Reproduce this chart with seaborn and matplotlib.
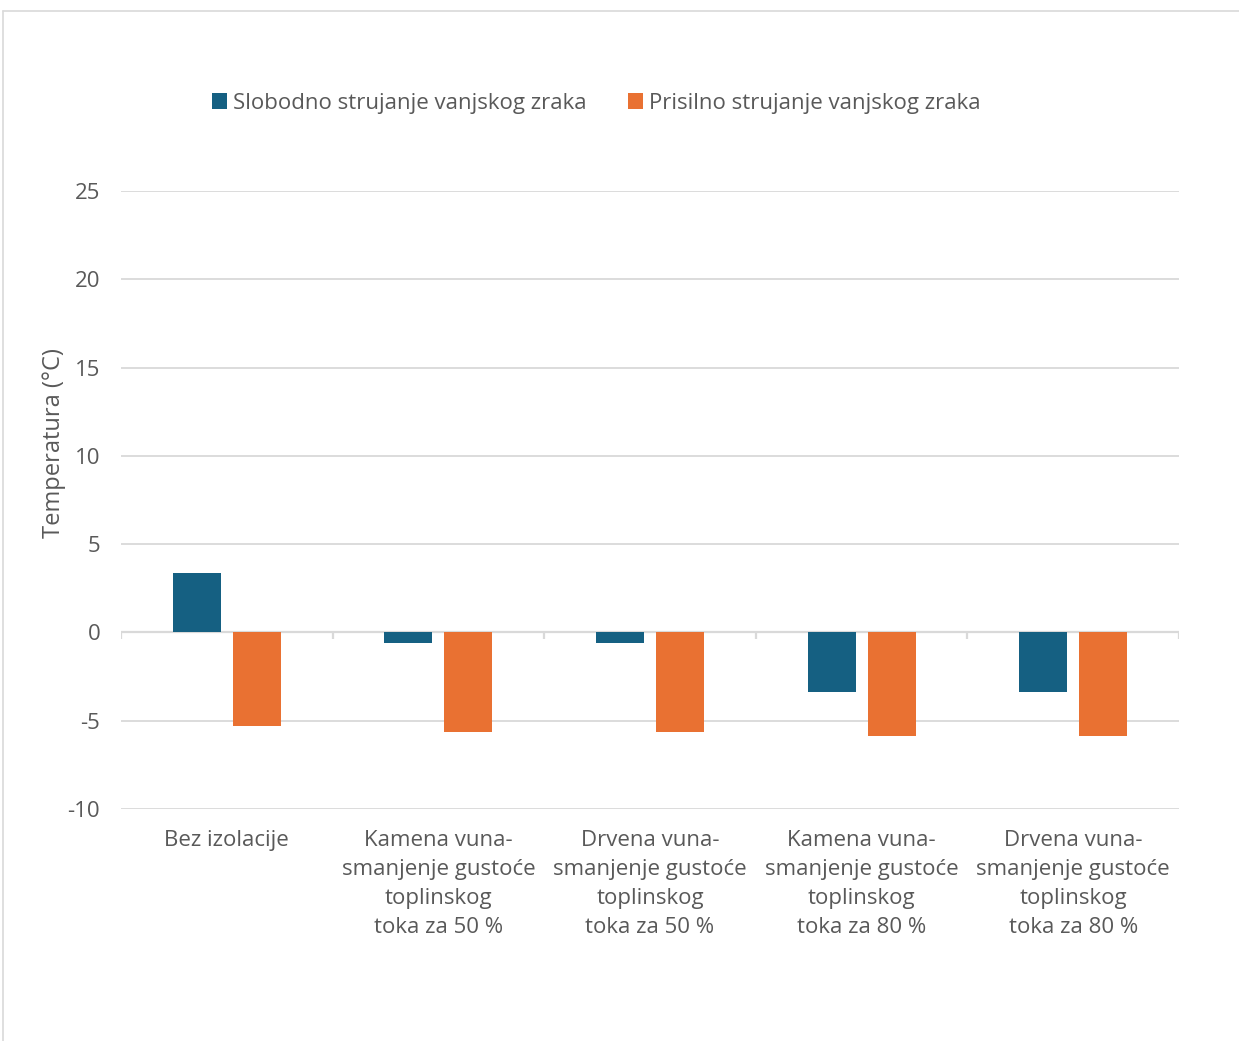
import pandas as pd
import matplotlib.pyplot as plt
import seaborn as sns
from matplotlib.patches import Patch

# Data
categories = [
    "Bez izolacije",
    "Kamena vuna-\nsmanjenje gustoće\ntoplinskog\ntoka za 50 %",
    "Drvena vuna-\nsmanjenje gustoće\ntoplinskog\ntoka za 50 %",
    "Kamena vuna-\nsmanjenje gustoće\ntoplinskog\ntoka za 80 %",
    "Drvena vuna-\nsmanjenje gustoće\ntoplinskog\ntoka za 80 %",
]
series_names = ["Slobodno strujanje vanjskog zraka", "Prisilno strujanje vanjskog zraka"]
slobodno = [3.35, -0.6, -0.6, -3.4, -3.4]
prisilno = [-5.3, -5.65, -5.65, -5.85, -5.85]
colors = ["#156082", "#E97132"]

df = pd.DataFrame({
    "kategorija": categories * 2,
    "serija": [series_names[0]] * 5 + [series_names[1]] * 5,
    "temperatura": slobodno + prisilno,
})

sns.set_style("white")
plt.rcParams["font.family"] = ["Open Sans", "DejaVu Sans"]
plt.rcParams["axes.unicode_minus"] = False
text_col = "#595959"
grid_col = "#D9D9D9"

fig = plt.figure(figsize=(12.39, 10.41), dpi=100)
ax = fig.add_axes([121 / 1239, 1 - 809 / 1041, (1179 - 121) / 1239, (809 - 191) / 1041])

sns.barplot(data=df, x="kategorija", y="temperatura", hue="serija",
            palette=colors, saturation=1, width=0.567, gap=0.2, ax=ax,
            legend=False, linewidth=0)

ax.set_ylim(-10, 25)
ax.set_xlim(-0.5, len(categories) - 0.5)
ax.set_yticks(range(-10, 30, 5))
ax.yaxis.grid(True, color=grid_col, linewidth=1.3)
ax.set_axisbelow(True)
for s in ax.spines.values():
    s.set_visible(False)

# category axis at zero with ticks between groups
ax.axhline(0, color=grid_col, linewidth=1.6, zorder=0.5)
bounds = [i - 0.5 for i in range(len(categories) + 1)]
ax.vlines(bounds, -0.35, 0, color=grid_col, linewidth=1.6, zorder=0.5)

ax.tick_params(axis="both", length=0, labelsize=16, labelcolor=text_col)
ax.tick_params(axis="x", pad=15)
ax.tick_params(axis="y", pad=15)
for lbl in ax.get_xticklabels():
    lbl.set_linespacing(1.51)
ax.set_xlabel("")
ax.set_ylabel("Temperatura (°C)", fontsize=17, color=text_col)
ax.yaxis.set_label_coords(-0.052, 0.592)

handles = [Patch(facecolor=c, edgecolor="none") for c in colors]
fig.legend(handles, series_names, loc="center", bbox_to_anchor=(596 / 1239, 1 - 103 / 1041),
           ncol=2, frameon=False, fontsize=16, labelcolor=text_col,
           handlelength=0.7, handleheight=0.7, handletextpad=0.25, columnspacing=1.85)

# chart frame (top and left edges visible in the reference)
fig.add_artist(plt.Line2D([3 / 1239, 1], [1 - 11 / 1041] * 2, color=grid_col, linewidth=1.2))
fig.add_artist(plt.Line2D([3 / 1239] * 2, [0, 1 - 11 / 1041], color=grid_col, linewidth=1.2))

fig.savefig("out.png", dpi=100)
